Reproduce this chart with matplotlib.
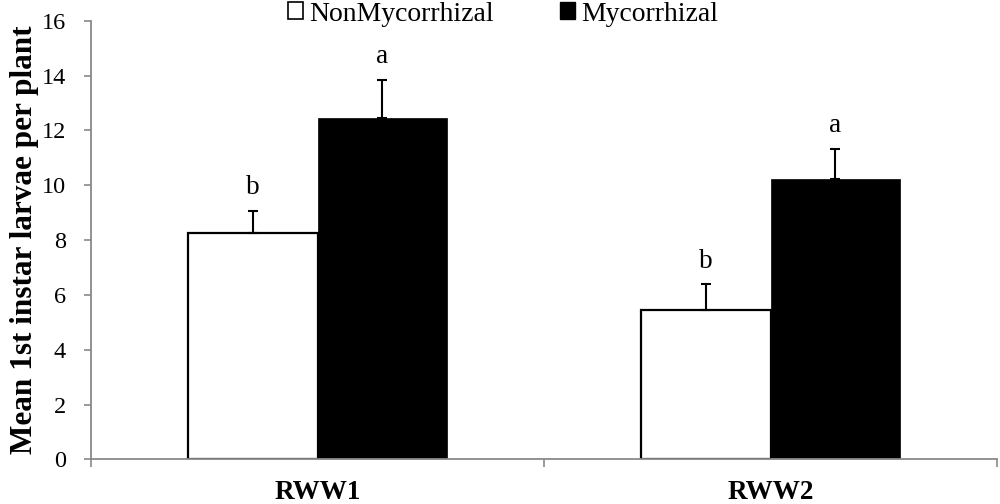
import numpy as np
from matplotlib import pyplot as plt
from matplotlib.patches import Patch

sites = ["RWW1", "RWW2"]
non_myc = [8.24, 5.46]
non_myc_err = [0.83, 0.93]
myc = [12.44, 10.22]
myc_err = [1.40, 1.10]
non_letters = ["b", "b"]
myc_letters = ["a", "a"]

plt.rcParams['font.family'] = ['Liberation Serif', 'DejaVu Serif']

def main():
    fig = plt.figure(figsize=(10, 5.04), dpi=100)
    ax = fig.add_axes([0.091, 0.0883, 0.906, 0.8707])
    x = np.arange(len(sites))
    w = 0.285
    axis_grey = '#898989'

    ax.bar(x - w / 2, non_myc, w, color='white', edgecolor='black',
           linewidth=1.6, zorder=2)
    ax.bar(x + w / 2, myc, w, color='black', edgecolor='black',
           linewidth=0.5, zorder=2)
    ax.errorbar(x - w / 2, non_myc, yerr=[np.zeros(2), non_myc_err],
                fmt='none', ecolor='black', elinewidth=1.5, capsize=3.5,
                capthick=1.5, zorder=3)
    ax.errorbar(x + w / 2, myc, yerr=[np.zeros(2), myc_err],
                fmt='none', ecolor='black', elinewidth=1.5, capsize=3.5,
                capthick=1.5, zorder=3)

    for i in range(len(sites)):
        ax.annotate(non_letters[i], (x[i] - w / 2, non_myc[i] + non_myc_err[i]),
                    xytext=(0, 12), textcoords='offset points',
                    ha='center', va='baseline', fontsize=19.5)
        ax.annotate(myc_letters[i], (x[i] + w / 2, myc[i] + myc_err[i]),
                    xytext=(0, 12), textcoords='offset points',
                    ha='center', va='baseline', fontsize=19.5)

    ax.set_xlim(-0.5, 1.5)
    ax.set_ylim(0, 16)
    ax.set_yticks(range(0, 17, 2))
    ax.set_xticks(x)
    ax.set_xticklabels(sites, fontsize=19.5, fontweight='bold')
    ax.set_xticks([-0.5, 0.5, 1.5], minor=True)
    ax.tick_params(axis='x', which='major', length=0, pad=15)
    ax.tick_params(axis='x', which='minor', length=6, width=1.2,
                   color=axis_grey, direction='out')
    ax.tick_params(axis='y', length=5, width=1.2, color=axis_grey,
                   labelsize=17.5, pad=13)
    for side in ['top', 'right']:
        ax.spines[side].set_visible(False)
    for side in ['left', 'bottom']:
        ax.spines[side].set_color(axis_grey)
        ax.spines[side].set_linewidth(1.3)

    ax.set_ylabel('Mean 1st instar larvae per plant', fontsize=22.5,
                  fontweight='bold')
    ax.yaxis.set_label_coords(-0.057, 0.5)

    handles = [Patch(facecolor='white', edgecolor='black', linewidth=1.2),
               Patch(facecolor='black', edgecolor='black')]
    fig.legend(handles, ['NonMycorrhizal', 'Mycorrhizal'], loc='center',
               bbox_to_anchor=(0.503, 0.972), ncol=2, frameon=False,
               fontsize=20, handlelength=0.55, handleheight=0.55,
               handletextpad=0.2, columnspacing=2.4, borderpad=0)

    fig.savefig('out.png', dpi=100)

if __name__ == "__main__":
    main()
